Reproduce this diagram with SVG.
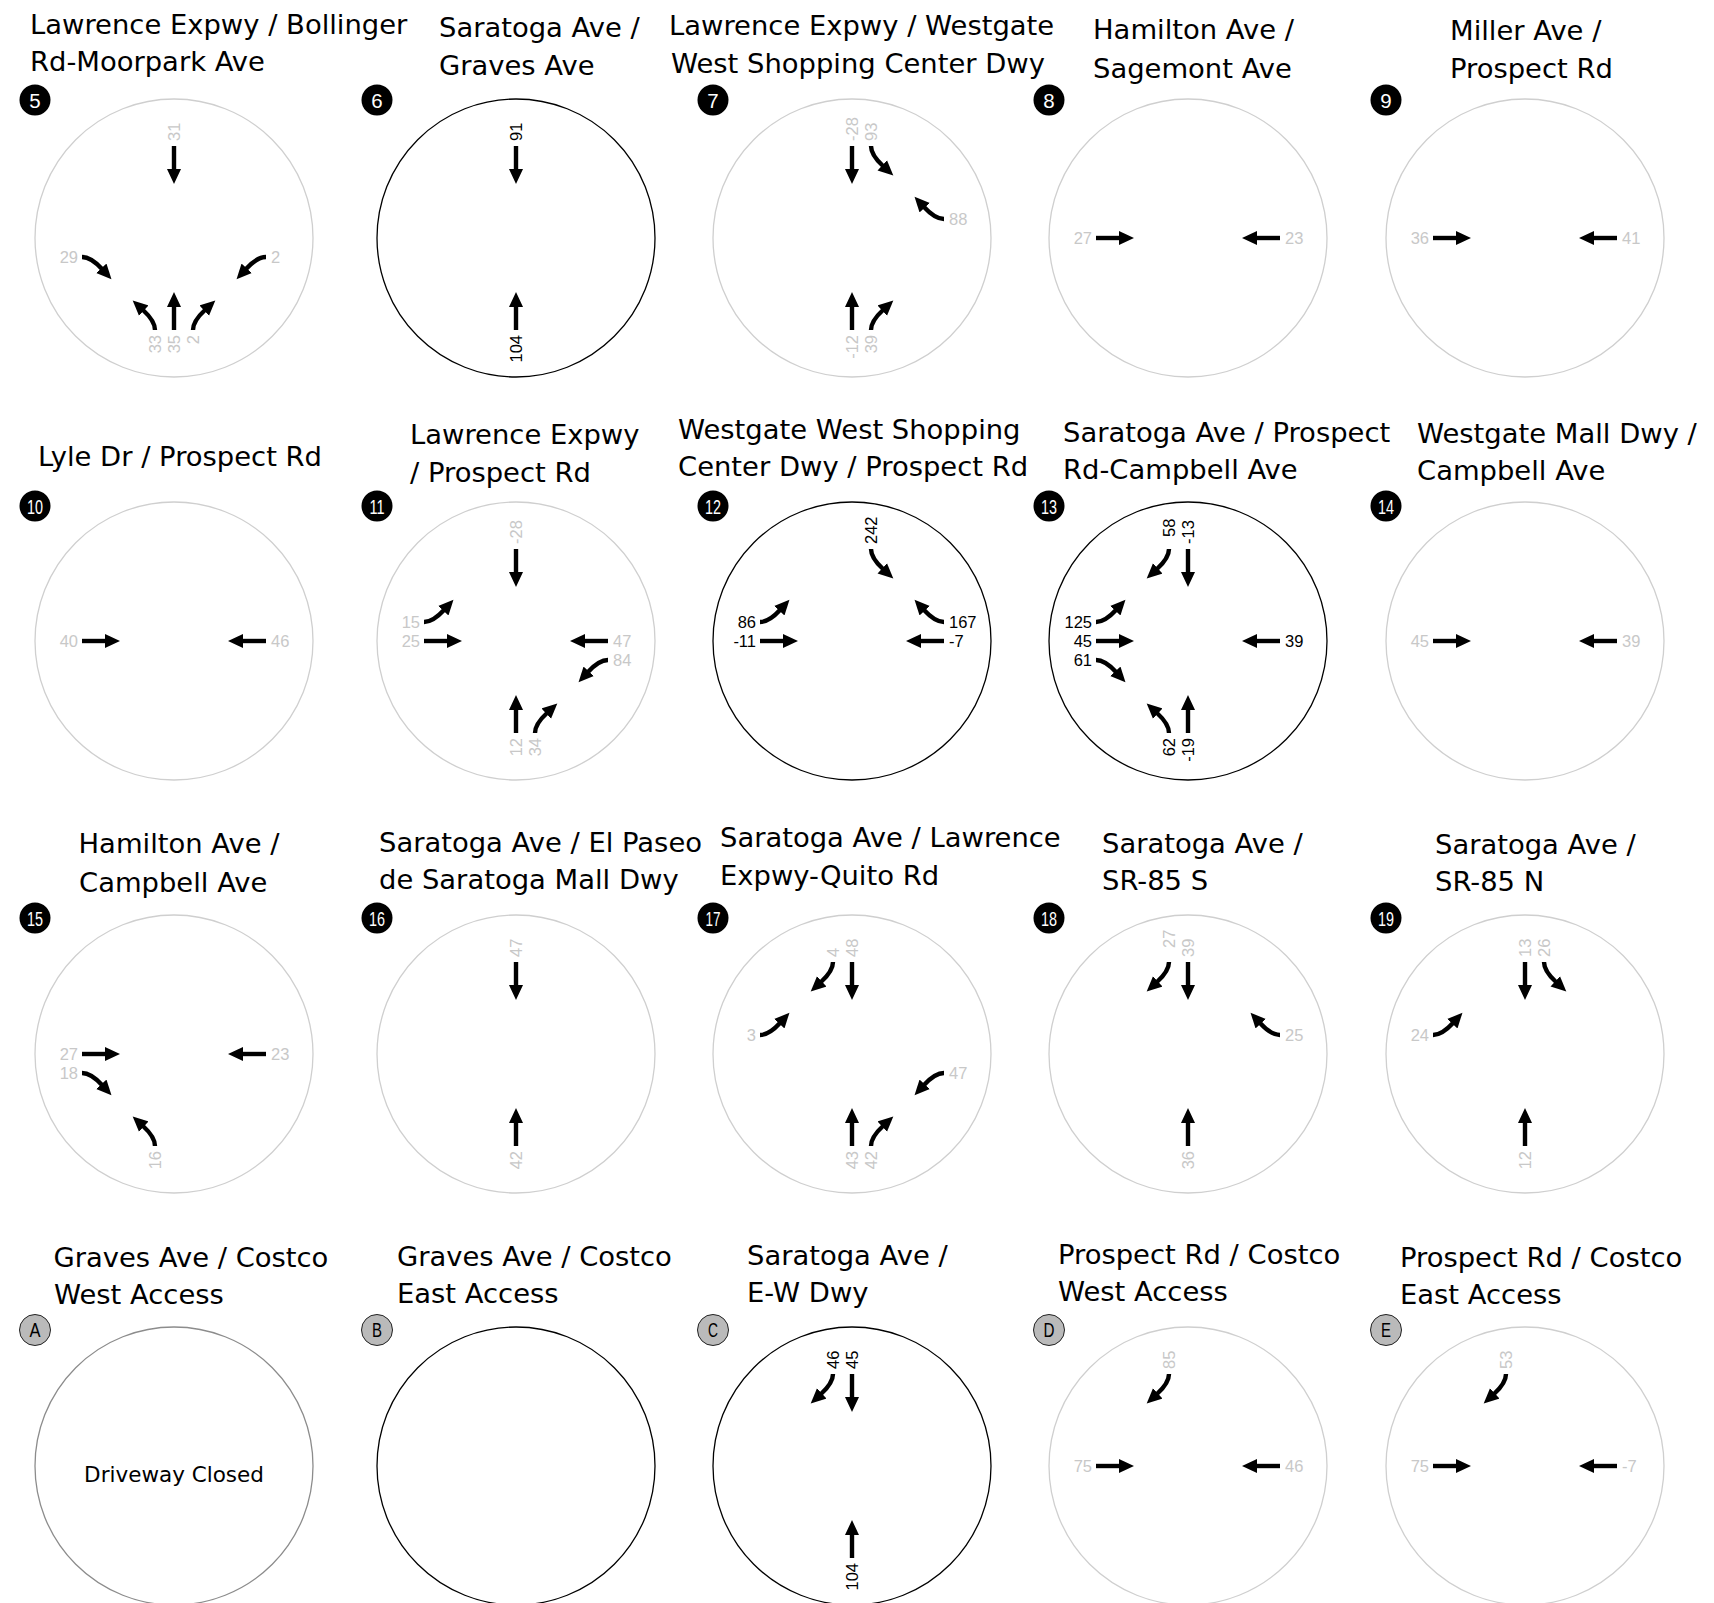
<svg xmlns="http://www.w3.org/2000/svg" xmlns:xlink="http://www.w3.org/1999/xlink" width="1714" height="1603" viewBox="0 0 1714 1603">
<style>
.t{font-family:"DejaVu Sans","Liberation Sans",sans-serif;font-size:27.4px;fill:#000}
.n{font-family:"Liberation Sans",Arial,sans-serif;font-size:16.5px}
.g{fill:#c8c8c8}
.k{fill:#000}
.ls{text-anchor:start}
.le{text-anchor:end}
.cg{fill:#fff;stroke:#cfcfcf;stroke-width:1.3}
.ck{fill:#fff;stroke:#000;stroke-width:1.3}
.ca{fill:#fff;stroke:#8c8c8c;stroke-width:1.3}
.bd{fill:#000}
.bt{fill:#fff;font-family:"Liberation Sans",Arial,sans-serif;font-size:20.5px;text-anchor:middle}
.bl{fill:#bababa;stroke:#222;stroke-width:1}
.lt{fill:#000;font-family:"Liberation Sans",Arial,sans-serif;font-size:20px;text-anchor:middle}
.mv{fill:none;stroke:#000;stroke-width:4.4}
.dc{font-family:"DejaVu Sans","Liberation Sans",sans-serif;font-size:21.5px;text-anchor:middle;fill:#000}
</style>
<defs>
<marker id="ah" markerUnits="userSpaceOnUse" viewBox="0 -7.5 16 15" markerWidth="16" markerHeight="15" refX="1" refY="0" orient="auto"><path d="M0,-7 L15,0 L0,7 z" fill="#000"/></marker>
<path id="mT" class="mv" d="M0,92 L0,68" marker-end="url(#ah)"/>
<path id="mL" class="mv" d="M-19,92 Q-19,83 -31,72" marker-end="url(#ah)"/>
<path id="mR" class="mv" d="M19,92 Q19,83 31,72" marker-end="url(#ah)"/>
</defs>
<rect width="1714" height="1603" fill="#fff"/>

<!-- Row 1 -->
<g id="int-5">
<text class="t" x="30" y="33.5">Lawrence Expwy / Bollinger</text>
<text class="t" x="30" y="71">Rd-Moorpark Ave</text>
<g transform="translate(174,238)">
<circle class="cg" r="139"/>
<circle class="bd" cx="-139" cy="-138" r="15.5"/><text class="bt" x="-139" y="-130.5">5</text>
<g id="mv-5">
<use href="#mT" xlink:href="#mT" transform="rotate(180)"/>
<use href="#mR" xlink:href="#mR" transform="rotate(90)"/>
<use href="#mL" xlink:href="#mL" transform="rotate(270)"/>
<use href="#mL" xlink:href="#mL"/>
<use href="#mT" xlink:href="#mT"/>
<use href="#mR" xlink:href="#mR"/>
</g>
<text class="n g ls" transform="translate(0,-97) rotate(-90)" dy=".35em">31</text>
<text class="n g le" x="-96" y="25">29</text>
<text class="n g ls" x="97" y="25">2</text>
<text class="n g le" transform="translate(-19,97) rotate(-90)" dy=".35em">33</text>
<text class="n g le" transform="translate(0,97) rotate(-90)" dy=".35em">35</text>
<text class="n g le" transform="translate(19,97) rotate(-90)" dy=".35em">2</text>
</g>
</g>

<g id="int-6">
<text class="t" x="439" y="37">Saratoga Ave /</text>
<text class="t" x="439" y="75">Graves Ave</text>
<g transform="translate(516,238)">
<circle class="ck" r="139"/>
<circle class="bd" cx="-139" cy="-138" r="15.5"/><text class="bt" x="-139" y="-130.5">6</text>
<g id="mv-6">
<use href="#mT" xlink:href="#mT" transform="rotate(180)"/>
<use href="#mT" xlink:href="#mT"/>
</g>
<text class="n k ls" transform="translate(0,-97) rotate(-90)" dy=".35em">91</text>
<text class="n k le" transform="translate(0,97) rotate(-90)" dy=".35em">104</text>
</g>
</g>

<g id="int-7">
<text class="t" x="669" y="35">Lawrence Expwy / Westgate</text>
<text class="t" x="671" y="73">West Shopping Center Dwy</text>
<g transform="translate(852,238)">
<circle class="cg" r="139"/>
<circle class="bd" cx="-139" cy="-138" r="15.5"/><text class="bt" x="-139" y="-130.5">7</text>
<g id="mv-7">
<use href="#mT" xlink:href="#mT" transform="rotate(180)"/>
<use href="#mL" xlink:href="#mL" transform="rotate(180)"/>
<use href="#mR" xlink:href="#mR" transform="rotate(270)"/>
<use href="#mT" xlink:href="#mT"/>
<use href="#mR" xlink:href="#mR"/>
</g>
<text class="n g ls" transform="translate(0,-97) rotate(-90)" dy=".35em">-28</text>
<text class="n g ls" transform="translate(19,-97) rotate(-90)" dy=".35em">93</text>
<text class="n g ls" x="97" y="-13">88</text>
<text class="n g le" transform="translate(0,97) rotate(-90)" dy=".35em">-12</text>
<text class="n g le" transform="translate(19,97) rotate(-90)" dy=".35em">39</text>
</g>
</g>

<g id="int-8">
<text class="t" x="1093" y="39">Hamilton Ave /</text>
<text class="t" x="1093" y="77.5">Sagemont Ave</text>
<g transform="translate(1188,238)">
<circle class="cg" r="139"/>
<circle class="bd" cx="-139" cy="-138" r="15.5"/><text class="bt" x="-139" y="-130.5">8</text>
<g id="mv-8">
<use href="#mT" xlink:href="#mT" transform="rotate(90)"/>
<use href="#mT" xlink:href="#mT" transform="rotate(270)"/>
</g>
<text class="n g le" x="-96" y="6">27</text>
<text class="n g ls" x="97" y="6">23</text>
</g>
</g>

<g id="int-9">
<text class="t" x="1450" y="40">Miller Ave /</text>
<text class="t" x="1450" y="78">Prospect Rd</text>
<g transform="translate(1525,238)">
<circle class="cg" r="139"/>
<circle class="bd" cx="-139" cy="-138" r="15.5"/><text class="bt" x="-139" y="-130.5">9</text>
<g id="mv-9">
<use href="#mT" xlink:href="#mT" transform="rotate(90)"/>
<use href="#mT" xlink:href="#mT" transform="rotate(270)"/>
</g>
<text class="n g le" x="-96" y="6">36</text>
<text class="n g ls" x="97" y="6">41</text>
</g>
</g>

<!-- Row 2 -->
<g id="int-10">
<text class="t" x="38" y="466">Lyle Dr / Prospect Rd</text>
<g transform="translate(174,641)">
<circle class="cg" r="139"/>
<circle class="bd" cx="-139" cy="-135" r="15.5"/><text class="bt" x="-139" y="-127.5" textLength="16" lengthAdjust="spacingAndGlyphs">10</text>
<g id="mv-10">
<use href="#mT" xlink:href="#mT" transform="rotate(90)"/>
<use href="#mT" xlink:href="#mT" transform="rotate(270)"/>
</g>
<text class="n g le" x="-96" y="6">40</text>
<text class="n g ls" x="97" y="6">46</text>
</g>
</g>

<g id="int-11">
<text class="t" x="410" y="443.5">Lawrence Expwy</text>
<text class="t" x="410" y="482">/ Prospect Rd</text>
<g transform="translate(516,641)">
<circle class="cg" r="139"/>
<circle class="bd" cx="-139" cy="-135" r="15.5"/><text class="bt" x="-139" y="-127.5" textLength="15" lengthAdjust="spacingAndGlyphs">11</text>
<g id="mv-11">
<use href="#mT" xlink:href="#mT" transform="rotate(180)"/>
<use href="#mL" xlink:href="#mL" transform="rotate(90)"/>
<use href="#mT" xlink:href="#mT" transform="rotate(90)"/>
<use href="#mT" xlink:href="#mT" transform="rotate(270)"/>
<use href="#mL" xlink:href="#mL" transform="rotate(270)"/>
<use href="#mT" xlink:href="#mT"/>
<use href="#mR" xlink:href="#mR"/>
</g>
<text class="n g ls" transform="translate(0,-97) rotate(-90)" dy=".35em">-28</text>
<text class="n g le" x="-96" y="-13">15</text>
<text class="n g le" x="-96" y="6">25</text>
<text class="n g ls" x="97" y="6">47</text>
<text class="n g ls" x="97" y="25">84</text>
<text class="n g le" transform="translate(0,97) rotate(-90)" dy=".35em">12</text>
<text class="n g le" transform="translate(19,97) rotate(-90)" dy=".35em">34</text>
</g>
</g>

<g id="int-12">
<text class="t" x="678" y="438.5">Westgate West Shopping</text>
<text class="t" x="678" y="476">Center Dwy / Prospect Rd</text>
<g transform="translate(852,641)">
<circle class="ck" r="139"/>
<circle class="bd" cx="-139" cy="-135" r="15.5"/><text class="bt" x="-139" y="-127.5" textLength="16" lengthAdjust="spacingAndGlyphs">12</text>
<g id="mv-12">
<use href="#mL" xlink:href="#mL" transform="rotate(180)"/>
<use href="#mL" xlink:href="#mL" transform="rotate(90)"/>
<use href="#mT" xlink:href="#mT" transform="rotate(90)"/>
<use href="#mR" xlink:href="#mR" transform="rotate(270)"/>
<use href="#mT" xlink:href="#mT" transform="rotate(270)"/>
</g>
<text class="n k ls" transform="translate(19,-97) rotate(-90)" dy=".35em">242</text>
<text class="n k le" x="-96" y="-13">86</text>
<text class="n k le" x="-96" y="6">-11</text>
<text class="n k ls" x="97" y="-13">167</text>
<text class="n k ls" x="97" y="6">-7</text>
</g>
</g>

<g id="int-13">
<text class="t" x="1063" y="441.5">Saratoga Ave / Prospect</text>
<text class="t" x="1063" y="478.5">Rd-Campbell Ave</text>
<g transform="translate(1188,641)">
<circle class="ck" r="139"/>
<circle class="bd" cx="-139" cy="-135" r="15.5"/><text class="bt" x="-139" y="-127.5" textLength="16" lengthAdjust="spacingAndGlyphs">13</text>
<g id="mv-13">
<use href="#mR" xlink:href="#mR" transform="rotate(180)"/>
<use href="#mT" xlink:href="#mT" transform="rotate(180)"/>
<use href="#mL" xlink:href="#mL" transform="rotate(90)"/>
<use href="#mT" xlink:href="#mT" transform="rotate(90)"/>
<use href="#mR" xlink:href="#mR" transform="rotate(90)"/>
<use href="#mT" xlink:href="#mT" transform="rotate(270)"/>
<use href="#mL" xlink:href="#mL"/>
<use href="#mT" xlink:href="#mT"/>
</g>
<text class="n k ls" transform="translate(-19,-104) rotate(-90)" dy=".35em">58</text>
<text class="n k ls" transform="translate(0,-97) rotate(-90)" dy=".35em">-13</text>
<text class="n k le" x="-96" y="-13">125</text>
<text class="n k le" x="-96" y="6">45</text>
<text class="n k le" x="-96" y="25">61</text>
<text class="n k ls" x="97" y="6">39</text>
<text class="n k le" transform="translate(-19,97) rotate(-90)" dy=".35em">62</text>
<text class="n k le" transform="translate(0,97) rotate(-90)" dy=".35em">-19</text>
</g>
</g>

<g id="int-14">
<text class="t" x="1417" y="443">Westgate Mall Dwy /</text>
<text class="t" x="1417" y="480">Campbell Ave</text>
<g transform="translate(1525,641)">
<circle class="cg" r="139"/>
<circle class="bd" cx="-139" cy="-135" r="15.5"/><text class="bt" x="-139" y="-127.5" textLength="16" lengthAdjust="spacingAndGlyphs">14</text>
<g id="mv-14">
<use href="#mT" xlink:href="#mT" transform="rotate(90)"/>
<use href="#mT" xlink:href="#mT" transform="rotate(270)"/>
</g>
<text class="n g le" x="-96" y="6">45</text>
<text class="n g ls" x="97" y="6">39</text>
</g>
</g>

<!-- Row 3 -->
<g id="int-15">
<text class="t" x="78.5" y="853">Hamilton Ave /</text>
<text class="t" x="79" y="891.5">Campbell Ave</text>
<g transform="translate(174,1054)">
<circle class="cg" r="139"/>
<circle class="bd" cx="-139" cy="-136" r="15.5"/><text class="bt" x="-139" y="-128.5" textLength="16" lengthAdjust="spacingAndGlyphs">15</text>
<g id="mv-15">
<use href="#mT" xlink:href="#mT" transform="rotate(90)"/>
<use href="#mR" xlink:href="#mR" transform="rotate(90)"/>
<use href="#mT" xlink:href="#mT" transform="rotate(270)"/>
<use href="#mL" xlink:href="#mL"/>
</g>
<text class="n g le" x="-96" y="6">27</text>
<text class="n g le" x="-96" y="25">18</text>
<text class="n g ls" x="97" y="6">23</text>
<text class="n g le" transform="translate(-19,97) rotate(-90)" dy=".35em">16</text>
</g>
</g>

<g id="int-16">
<text class="t" x="379" y="852">Saratoga Ave / El Paseo</text>
<text class="t" x="379" y="889">de Saratoga Mall Dwy</text>
<g transform="translate(516,1054)">
<circle class="cg" r="139"/>
<circle class="bd" cx="-139" cy="-136" r="15.5"/><text class="bt" x="-139" y="-128.5" textLength="16" lengthAdjust="spacingAndGlyphs">16</text>
<g id="mv-16">
<use href="#mT" xlink:href="#mT" transform="rotate(180)"/>
<use href="#mT" xlink:href="#mT"/>
</g>
<text class="n g ls" transform="translate(0,-97) rotate(-90)" dy=".35em">47</text>
<text class="n g le" transform="translate(0,97) rotate(-90)" dy=".35em">42</text>
</g>
</g>

<g id="int-17">
<text class="t" x="720" y="847">Saratoga Ave / Lawrence</text>
<text class="t" x="720" y="885">Expwy-Quito Rd</text>
<g transform="translate(852,1054)">
<circle class="cg" r="139"/>
<circle class="bd" cx="-139" cy="-136" r="15.5"/><text class="bt" x="-139" y="-128.5" textLength="15" lengthAdjust="spacingAndGlyphs">17</text>
<g id="mv-17">
<use href="#mR" xlink:href="#mR" transform="rotate(180)"/>
<use href="#mT" xlink:href="#mT" transform="rotate(180)"/>
<use href="#mL" xlink:href="#mL" transform="rotate(90)"/>
<use href="#mL" xlink:href="#mL" transform="rotate(270)"/>
<use href="#mT" xlink:href="#mT"/>
<use href="#mR" xlink:href="#mR"/>
</g>
<text class="n g ls" transform="translate(-19,-97) rotate(-90)" dy=".35em">4</text>
<text class="n g ls" transform="translate(0,-97) rotate(-90)" dy=".35em">48</text>
<text class="n g le" x="-96" y="-13">3</text>
<text class="n g ls" x="97" y="25">47</text>
<text class="n g le" transform="translate(0,97) rotate(-90)" dy=".35em">43</text>
<text class="n g le" transform="translate(19,97) rotate(-90)" dy=".35em">42</text>
</g>
</g>

<g id="int-18">
<text class="t" x="1102" y="852.5">Saratoga Ave /</text>
<text class="t" x="1102" y="890">SR-85 S</text>
<g transform="translate(1188,1054)">
<circle class="cg" r="139"/>
<circle class="bd" cx="-139" cy="-136" r="15.5"/><text class="bt" x="-139" y="-128.5" textLength="16" lengthAdjust="spacingAndGlyphs">18</text>
<g id="mv-18">
<use href="#mR" xlink:href="#mR" transform="rotate(180)"/>
<use href="#mT" xlink:href="#mT" transform="rotate(180)"/>
<use href="#mR" xlink:href="#mR" transform="rotate(270)"/>
<use href="#mT" xlink:href="#mT"/>
</g>
<text class="n g ls" transform="translate(-19,-106) rotate(-90)" dy=".35em">27</text>
<text class="n g ls" transform="translate(0,-97) rotate(-90)" dy=".35em">39</text>
<text class="n g ls" x="97" y="-13">25</text>
<text class="n g le" transform="translate(0,97) rotate(-90)" dy=".35em">36</text>
</g>
</g>

<g id="int-19">
<text class="t" x="1435" y="854">Saratoga Ave /</text>
<text class="t" x="1435" y="891">SR-85 N</text>
<g transform="translate(1525,1054)">
<circle class="cg" r="139"/>
<circle class="bd" cx="-139" cy="-136" r="15.5"/><text class="bt" x="-139" y="-128.5" textLength="16" lengthAdjust="spacingAndGlyphs">19</text>
<g id="mv-19">
<use href="#mT" xlink:href="#mT" transform="rotate(180)"/>
<use href="#mL" xlink:href="#mL" transform="rotate(180)"/>
<use href="#mL" xlink:href="#mL" transform="rotate(90)"/>
<use href="#mT" xlink:href="#mT"/>
</g>
<text class="n g ls" transform="translate(0,-97) rotate(-90)" dy=".35em">13</text>
<text class="n g ls" transform="translate(19,-97) rotate(-90)" dy=".35em">26</text>
<text class="n g le" x="-96" y="-13">24</text>
<text class="n g le" transform="translate(0,97) rotate(-90)" dy=".35em">12</text>
</g>
</g>

<!-- Row 4 -->
<g id="int-A">
<text class="t" x="53.5" y="1266.5">Graves Ave / Costco</text>
<text class="t" x="54" y="1303.5">West Access</text>
<g transform="translate(174,1466)">
<circle class="ca" r="139"/>
<circle class="bl" cx="-139" cy="-136" r="15.5"/><text class="lt" x="-139" y="-129" textLength="11" lengthAdjust="spacingAndGlyphs">A</text>
<text class="dc" x="0" y="15.5">Driveway Closed</text>
</g>
</g>

<g id="int-B">
<text class="t" x="397" y="1266">Graves Ave / Costco</text>
<text class="t" x="397" y="1303">East Access</text>
<g transform="translate(516,1466)">
<circle class="ck" r="139"/>
<circle class="bl" cx="-139" cy="-136" r="15.5"/><text class="lt" x="-139" y="-129" textLength="10" lengthAdjust="spacingAndGlyphs">B</text>
</g>
</g>

<g id="int-C">
<text class="t" x="747" y="1265">Saratoga Ave /</text>
<text class="t" x="747" y="1302">E-W Dwy</text>
<g transform="translate(852,1466)">
<circle class="ck" r="139"/>
<circle class="bl" cx="-139" cy="-136" r="15.5"/><text class="lt" x="-139" y="-129" textLength="10" lengthAdjust="spacingAndGlyphs">C</text>
<g id="mv-C">
<use href="#mR" xlink:href="#mR" transform="rotate(180)"/>
<use href="#mT" xlink:href="#mT" transform="rotate(180)"/>
<use href="#mT" xlink:href="#mT"/>
</g>
<text class="n k ls" transform="translate(-19,-97) rotate(-90)" dy=".35em">46</text>
<text class="n k ls" transform="translate(0,-97) rotate(-90)" dy=".35em">45</text>
<text class="n k le" transform="translate(0,97) rotate(-90)" dy=".35em">104</text>
</g>
</g>

<g id="int-D">
<text class="t" x="1058" y="1264">Prospect Rd / Costco</text>
<text class="t" x="1058" y="1301">West Access</text>
<g transform="translate(1188,1466)">
<circle class="cg" r="139"/>
<circle class="bl" cx="-139" cy="-136" r="15.5"/><text class="lt" x="-139" y="-129" textLength="11" lengthAdjust="spacingAndGlyphs">D</text>
<g id="mv-D">
<use href="#mR" xlink:href="#mR" transform="rotate(180)"/>
<use href="#mT" xlink:href="#mT" transform="rotate(90)"/>
<use href="#mT" xlink:href="#mT" transform="rotate(270)"/>
</g>
<text class="n g ls" transform="translate(-19,-97) rotate(-90)" dy=".35em">85</text>
<text class="n g le" x="-96" y="6">75</text>
<text class="n g ls" x="97" y="6">46</text>
</g>
</g>

<g id="int-E">
<text class="t" x="1400" y="1267">Prospect Rd / Costco</text>
<text class="t" x="1400" y="1304">East Access</text>
<g transform="translate(1525,1466)">
<circle class="cg" r="139"/>
<circle class="bl" cx="-139" cy="-136" r="15.5"/><text class="lt" x="-139" y="-129" textLength="10" lengthAdjust="spacingAndGlyphs">E</text>
<g id="mv-E">
<use href="#mR" xlink:href="#mR" transform="rotate(180)"/>
<use href="#mT" xlink:href="#mT" transform="rotate(90)"/>
<use href="#mT" xlink:href="#mT" transform="rotate(270)"/>
</g>
<text class="n g ls" transform="translate(-19,-97) rotate(-90)" dy=".35em">53</text>
<text class="n g le" x="-96" y="6">75</text>
<text class="n g ls" x="97" y="6">-7</text>
</g>
</g>
</svg>
